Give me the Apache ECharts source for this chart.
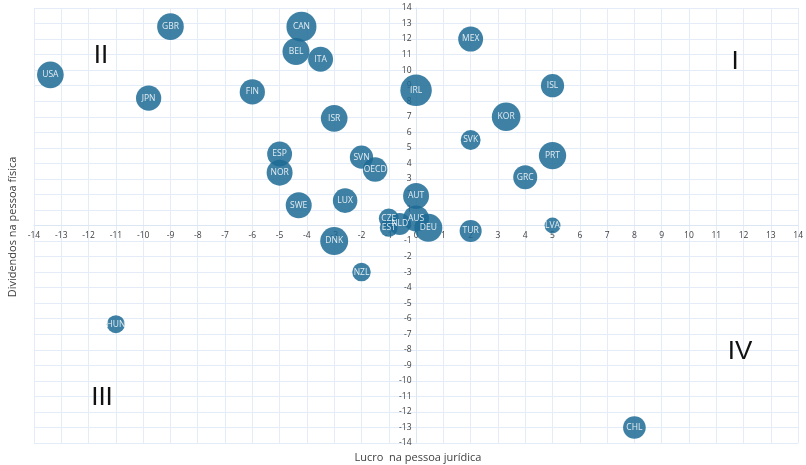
<!DOCTYPE html>
<html>
<head>
<meta charset="utf-8">
<script src="https://cdn.jsdelivr.net/npm/echarts@6/dist/echarts.min.js"></script>
<style>
  html, body { margin: 0; padding: 0; background: #ffffff; }
  #chart { width: 806px; height: 465px; }
</style>
</head>
<body>
<div id="chart"></div>
<script>
// Países (códigos OCDE)
const paises = ['GBR','CAN','MEX','BEL','ITA','USA','JPN','FIN','IRL','ISL','ISR','KOR','SVK',
  'ESP','SVN','PRT','NOR','OECD','GRC','AUT','SWE','LUX','CZE','EST','NLD','AUS','DEU','TUR',
  'LVA','DNK','NZL','HUN','CHL'];
// Variação do imposto sobre o lucro na pessoa jurídica (p.p.)
const lucroPJ = [-9, -4.2, 2, -4.4, -3.5, -13.4, -9.8, -6, 0, 5, -3, 3.3, 2,
  -5, -2, 5, -5, -1.5, 4, 0, -4.3, -2.6, -1, -1, -0.6, 0, 0.45, 2,
  5, -3, -2, -11, 8];
// Variação do imposto sobre dividendos na pessoa física (p.p.)
const dividendosPF = [12.8, 12.8, 12, 11.2, 10.7, 9.7, 8.2, 8.6, 8.7, 9, 6.9, 7, 5.5,
  4.6, 4.4, 4.5, 3.4, 3.6, 3.1, 1.9, 1.3, 1.6, 0.45, -0.15, 0.1, 0.45, -0.15, -0.35,
  0, -1, -3, -6.35, -13];
// Peso de cada bolha
const peso = [79, 100, 69, 81, 69, 79, 71, 71, 110, 60, 79, 91, 44,
  69, 60, 83, 75, 67, 64, 75, 75, 67, 44, 36, 54, 75, 87, 54,
  28, 87, 38, 36, 57];
// Marcas dos eixos
const eixoMin = -14, eixoMax = 14, eixoPasso = 1;
// Quadrantes
const quadrantes = ['I', 'II', 'III', 'IV'];

const pontos = paises.map((p, i) => ({ name: p, value: [lucroPJ[i], dividendosPF[i], peso[i]] }));

// Área de plotagem
const W = 806, H = 465;
const G = { left: 34, right: 7, top: 8, bottom: 22 };
const plotW = W - G.left - G.right;
const plotH = H - G.top - G.bottom;
// Deslocamento dos eixos para que cruzem na origem
const desloc = v => (v - eixoMin) / (eixoMax - eixoMin);
const offsetX = -plotH * desloc(0);
const offsetY = -plotW * desloc(0);

const corGrade = '#e4edf7';
const fonte = 'Open Sans, Liberation Sans, sans-serif';
const fonteQuadrante = '26px Liberation Sans, sans-serif';

const eixoComum = {
  type: 'value',
  min: eixoMin,
  max: eixoMax,
  interval: eixoPasso,
  axisTick: { show: false },
  splitLine: { show: true, lineStyle: { color: corGrade, width: 1 } },
  axisLabel: { color: '#404040', fontSize: 8.5, fontFamily: fonte, margin: 5, showMinLabel: true, showMaxLabel: true }
};

const chart = echarts.init(document.getElementById('chart'), null, { renderer: 'canvas' });

const rotuloQuadrante = (texto, x, y) => ({
  type: 'text', x, y, z: 100,
  style: { text: texto, fill: '#111', font: fonteQuadrante, align: 'center', verticalAlign: 'middle' }
});

chart.setOption({
  animation: false,
  grid: { left: G.left, right: G.right, top: G.top, bottom: G.bottom, containLabel: false },
  xAxis: Object.assign({}, eixoComum, {
    position: 'bottom',
    offset: offsetX,
    axisLine: { show: true, onZero: false, lineStyle: { color: '#dbe6f2', width: 1 } },
    axisLabel: Object.assign({}, eixoComum.axisLabel, { margin: 6 })
  }),
  yAxis: Object.assign({}, eixoComum, {
    position: 'left',
    offset: offsetY,
    axisLine: { show: true, onZero: false, lineStyle: { color: '#dbe6f2', width: 1 } }
  }),
  series: [{
    type: 'scatter',
    data: pontos,
    symbolSize: v => 30 * Math.sqrt(v[2] / 100),
    itemStyle: { color: '#1d6b95', opacity: 0.85 },
    label: {
      show: true,
      position: 'inside',
      formatter: p => p.name,
      color: '#ffffff',
      fontSize: 8.5,
      fontFamily: fonte
    },
    emphasis: { disabled: true },
    z: 3
  }],
  graphic: [
    {
      type: 'text',
      x: 418, y: 458, z: 100,
      style: { text: 'Lucro  na pessoa jurídica', fill: '#404040', font: '11px ' + fonte, align: 'center', verticalAlign: 'middle' }
    },
    {
      type: 'text',
      x: 13, y: 227, z: 100,
      rotation: Math.PI / 2,
      style: { text: 'Dividendos na pessoa física', fill: '#404040', font: '11px ' + fonte, align: 'center', verticalAlign: 'middle' }
    },
    rotuloQuadrante(quadrantes[0], 735, 62),
    rotuloQuadrante(quadrantes[1], 101, 56),
    rotuloQuadrante(quadrantes[2], 102, 398),
    rotuloQuadrante(quadrantes[3], 740, 352)
  ]
});
</script>
</body>
</html>
